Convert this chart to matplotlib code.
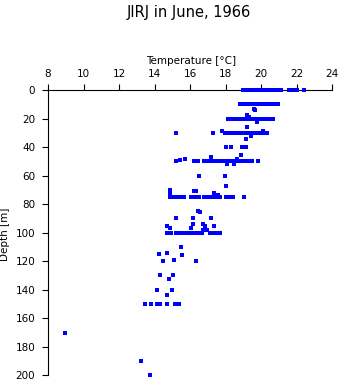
import matplotlib
matplotlib.use('Agg')
import matplotlib.pyplot as plt
import numpy as np

plt.rcParams['font.family'] = ['DejaVu Sans']

# Temperatures (deg C) observed at the standard depth levels (m)
temp_0m = [19.0, 19.1, 19.2, 19.3, 19.4, 19.6, 19.7, 19.8, 19.9, 20.0, 20.1, 20.2, 20.3,
           20.4, 20.5, 20.6, 20.7, 20.8, 20.9, 21.0, 21.1, 21.55, 21.8, 21.9, 22.0, 22.4]
temp_10m = [18.8, 18.9, 19.0, 19.1, 19.2, 19.3, 19.4, 19.5, 19.6, 19.7, 19.8, 19.9, 20.0,
            20.1, 20.2, 20.3, 20.4, 20.5, 20.6, 20.8, 20.95]
temp_20m = [18.15, 18.35, 18.45, 18.55, 18.65, 18.75, 18.85, 18.95, 19.05, 19.15, 19.25,
            19.35, 19.45, 19.55, 19.65, 19.75, 19.85, 19.95, 20.05, 20.15, 20.25, 20.35,
            20.45, 20.55, 20.65]
temp_30m = [15.2, 17.3, 17.95, 18.05, 18.15, 18.25, 18.35, 18.45, 18.55, 18.65, 18.75,
            18.85, 18.95, 19.05, 19.15, 19.25, 19.35, 19.45, 19.55, 19.65, 19.75, 19.85,
            19.95, 20.05, 20.15, 20.25, 20.35]
temp_50m = [15.2, 16.25, 16.45, 16.8, 16.9, 17.0, 17.1, 17.2, 17.3, 17.4, 17.5, 17.6,
            17.75, 17.85, 17.95, 18.05, 18.15, 18.25, 18.35, 18.45, 18.55, 18.65, 18.75,
            18.85, 18.95, 19.05, 19.15, 19.25, 19.35, 19.5, 19.85]
temp_75m = [14.85, 14.95, 15.05, 15.15, 15.25, 15.35, 15.45, 15.55, 15.65, 16.05, 16.15,
            16.25, 16.35, 16.5, 16.8, 17.0, 17.1, 17.2, 17.3, 17.4, 17.5, 17.6, 17.7,
            18.0, 18.1, 18.3, 18.45, 19.05]
temp_100m = [14.7, 14.8, 14.95, 15.2, 15.3, 15.45, 15.65, 15.75, 15.85, 15.95, 16.05,
             16.15, 16.25, 16.35, 16.5, 16.65, 17.1, 17.2, 17.3, 17.4, 17.5, 17.6, 17.7]
temp_150m = [13.45, 13.8, 14.15, 14.3, 14.7, 15.15, 15.4]

# Observations at other (non-standard) depths
other_depth = [13, 14, 17.5, 18.7, 22.2, 26, 29, 29, 32.5, 34.6,
               40, 40, 40, 40, 40, 45.4, 47.3, 48.7, 48.7, 49,
               52, 52, 60.4, 60.4, 67.4, 70.2, 70.5, 71, 72.5, 72.5, 73.7,
               84.5, 85.5, 90, 90, 90, 94, 94, 95.2, 95.2, 95.2, 97, 97, 98.2, 98.2,
               110.4, 114.2, 115, 116, 119.5, 120.2, 120.2,
               130, 130, 132.2, 140, 140, 144, 170, 190, 200]
other_temp = [19.6, 19.65, 19.2, 19.3, 19.8, 19.2, 17.8, 20.1, 19.45, 19.15,
              18.05, 18.3, 18.95, 19.05, 19.15, 18.85, 17.2, 15.7, 18.65, 15.45,
              18.1, 18.5, 16.5, 17.95, 18.0, 14.85, 16.25, 16.35, 14.9, 17.35, 17.6,
              16.45, 16.55, 15.2, 16.15, 17.2, 16.15, 16.75, 14.7, 16.85, 17.35, 14.9, 16.05, 16.75, 16.93,
              15.5, 14.7, 14.25, 15.55, 15.1, 14.5, 16.35,
              14.3, 15.05, 14.8, 14.15, 15.0, 14.7, 8.97, 13.25, 13.75]

x_ticks = [8, 10, 12, 14, 16, 18, 20, 22, 24]
y_ticks = [0, 20, 40, 60, 80, 100, 120, 140, 160, 180, 200]

levels = [(0, temp_0m), (10, temp_10m), (20, temp_20m), (30, temp_30m),
          (50, temp_50m), (75, temp_75m), (100, temp_100m), (150, temp_150m)]
T = []
D = []
for d, ts in levels:
    T.extend(ts)
    D.extend([d] * len(ts))
T.extend(other_temp)
D.extend(other_depth)

W, H = 341, 384
fig = plt.figure(figsize=(W / 100, H / 100), dpi=100)
left, right, top, bottom = 48, 332, 90, 375.3
ax = fig.add_axes([left / W, 1 - bottom / H, (right - left) / W, (bottom - top) / H])
ax.set_facecolor('none')

ax.plot(T, D, ls='none', marker='s', ms=2.2, mew=0, color='#0000ff',
        clip_on=False, zorder=5)

ax.set_xlim(8, 24)
ax.set_ylim(200, 0)
ax.xaxis.tick_top()
ax.set_xticks(x_ticks)
ax.set_yticks(y_ticks)
for s in ['right', 'bottom']:
    ax.spines[s].set_visible(False)
for s in ['left', 'top']:
    ax.spines[s].set_linewidth(0.8)
    ax.spines[s].set_color('black')
ax.tick_params(axis='x', direction='out', length=4.3, width=0.8, pad=3.5, labelsize=7.5)
ax.tick_params(axis='y', direction='out', length=4.3, width=0.8, pad=4.8, labelsize=7.5)

fig.text(189 / W, 1 - 17.3 / H, 'JIRJ in June, 1966', ha='center', va='baseline', fontsize=10.5)
fig.text(191.5 / W, 1 - 64 / H, 'Temperature [°C]', ha='center', va='baseline', fontsize=7.5)
fig.text(5.5 / W, 1 - 234 / H, 'Depth [m]', ha='center', va='center', rotation=90, fontsize=7.5)

fig.savefig('out.png', dpi=100)
